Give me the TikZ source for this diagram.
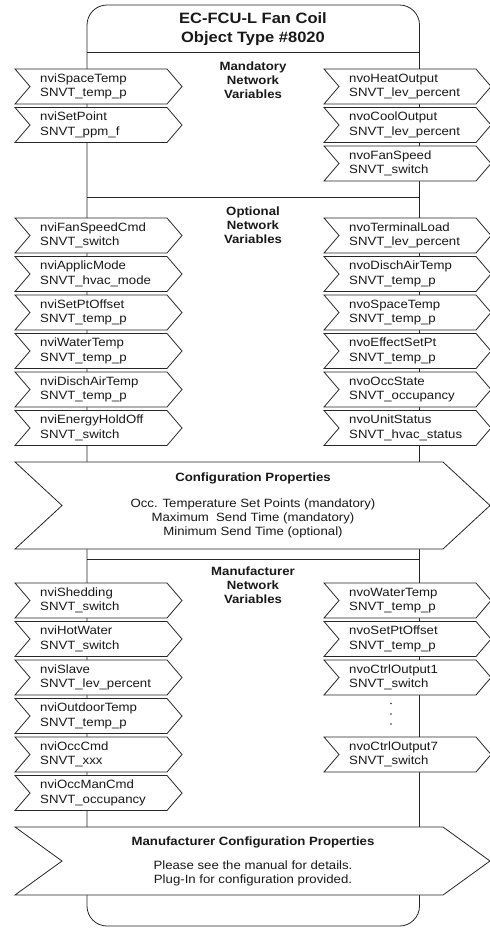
\documentclass[tikz,border=0pt]{standalone}
\usepackage{fontspec}
\setmainfont{Liberation Sans}[FakeStretch=1.1]
\begin{document}
\begin{tikzpicture}[x=1pt,y=-1pt,
  boxline/.style={draw=black!85,line width=0.8pt,fill=white,line join=miter},
  frameline/.style={draw=black!85,line width=0.8pt},
  nvtext/.style={anchor=west,align=left,inner sep=0pt,font=\fontsize{12}{14.5}\selectfont,text=black!90},
  sectext/.style={align=center,inner sep=0pt,font=\fontsize{12}{13.8}\selectfont\bfseries,text=black!90},
  cfgtext/.style={align=center,inner sep=0pt,font=\fontsize{12}{14}\selectfont,text=black!90},
  titletext/.style={align=center,inner sep=0pt,font=\fontsize{15}{19}\selectfont\bfseries,text=black!90}]
\useasboundingbox (0,0) rectangle (490,930);
\newcommand{\nvbox}[5]{%
  \draw[boxline] (#2,#3) -- ++(152,0) -- ++(15,17.5) -- ++(-15,17.5) -- ++(-152,0) -- ++(15,-17.5) -- cycle;
  \node[nvtext] (#1) at (#2+25,#3+17.5) {#4\\#5};}
% main frame
\draw[frameline,rounded corners=20pt] (87,5) rectangle (419.5,926);
\draw[frameline] (87,52) -- (419.5,52);
\draw[frameline] (87,197) -- (419.5,197);
\draw[frameline] (87,559) -- (419.5,559);
% title
\node[titletext] (title) at (253,29.5) {EC-FCU-L Fan Coil\\Object Type \#8020};
% section labels
\node[sectext] (mand) at (253,80.5) {Mandatory\\Network\\Variables};
\node[sectext] (opt) at (253,225) {Optional\\Network\\Variables};
\node[sectext] (manu) at (253,585.5) {Manufacturer\\Network\\Variables};
% mandatory
\nvbox{mi1}{15}{69}{nviSpaceTemp}{SNVT\_temp\_p}
\nvbox{mi2}{15}{107.5}{nviSetPoint}{SNVT\_ppm\_f}
\nvbox{mo1}{324}{69}{nvoHeatOutput}{SNVT\_lev\_percent}
\nvbox{mo2}{324}{107.5}{nvoCoolOutput}{SNVT\_lev\_percent}
\nvbox{mo3}{324}{146}{nvoFanSpeed}{SNVT\_switch}
% optional
\nvbox{oi1}{15}{218}{nviFanSpeedCmd}{SNVT\_switch}
\nvbox{oi2}{15}{256.5}{nviApplicMode}{SNVT\_hvac\_mode}
\nvbox{oi3}{15}{295}{nviSetPtOffset}{SNVT\_temp\_p}
\nvbox{oi4}{15}{333.5}{nviWaterTemp}{SNVT\_temp\_p}
\nvbox{oi5}{15}{372}{nviDischAirTemp}{SNVT\_temp\_p}
\nvbox{oi6}{15}{410.5}{nviEnergyHoldOff}{SNVT\_switch}
\nvbox{oo1}{324}{218}{nvoTerminalLoad}{SNVT\_lev\_percent}
\nvbox{oo2}{324}{256.5}{nvoDischAirTemp}{SNVT\_temp\_p}
\nvbox{oo3}{324}{295}{nvoSpaceTemp}{SNVT\_temp\_p}
\nvbox{oo4}{324}{333.5}{nvoEffectSetPt}{SNVT\_temp\_p}
\nvbox{oo5}{324}{372}{nvoOccState}{SNVT\_occupancy}
\nvbox{oo6}{324}{410.5}{nvoUnitStatus}{SNVT\_hvac\_status}
% configuration properties
\draw[boxline] (15,462) -- (443,462) -- (490,505.5) -- (443,549) -- (15,549) -- (62,505.5) -- cycle;
\node[sectext] (cfgt) at (253,478) {Configuration Properties};
\node[cfgtext] (cfgb) at (253,518) {Occ. Temperature Set Points (mandatory)\\Maximum\ \ Send Time (mandatory)\\Minimum Send Time (optional)};
% manufacturer
\nvbox{fi1}{15}{583}{nviShedding}{SNVT\_switch}
\nvbox{fi2}{15}{621.5}{nviHotWater}{SNVT\_switch}
\nvbox{fi3}{15}{660}{nviSlave}{SNVT\_lev\_percent}
\nvbox{fi4}{15}{698.5}{nviOutdoorTemp}{SNVT\_temp\_p}
\nvbox{fi5}{15}{737}{nviOccCmd}{SNVT\_xxx}
\nvbox{fi6}{15}{775.5}{nviOccManCmd}{SNVT\_occupancy}
\nvbox{fo1}{324}{583}{nvoWaterTemp}{SNVT\_temp\_p}
\nvbox{fo2}{324}{621.5}{nvoSetPtOffset}{SNVT\_temp\_p}
\nvbox{fo3}{324}{660}{nvoCtrlOutput1}{SNVT\_switch}
\nvbox{fo7}{324}{737}{nvoCtrlOutput7}{SNVT\_switch}
\fill[black!80] (391,703.5) circle (0.8) (391,714) circle (0.8) (391,724) circle (0.8);
% manufacturer configuration
\draw[boxline] (15,827) -- (443,827) -- (490,861) -- (443,895) -- (15,895) -- (62,861) -- cycle;
\node[sectext] (mcfgt) at (253,842) {Manufacturer Configuration Properties};
\node[cfgtext] (mcfgb) at (253,873) {Please see the manual for details.\\Plug-In for configuration provided.};
\end{tikzpicture}
\end{document}
